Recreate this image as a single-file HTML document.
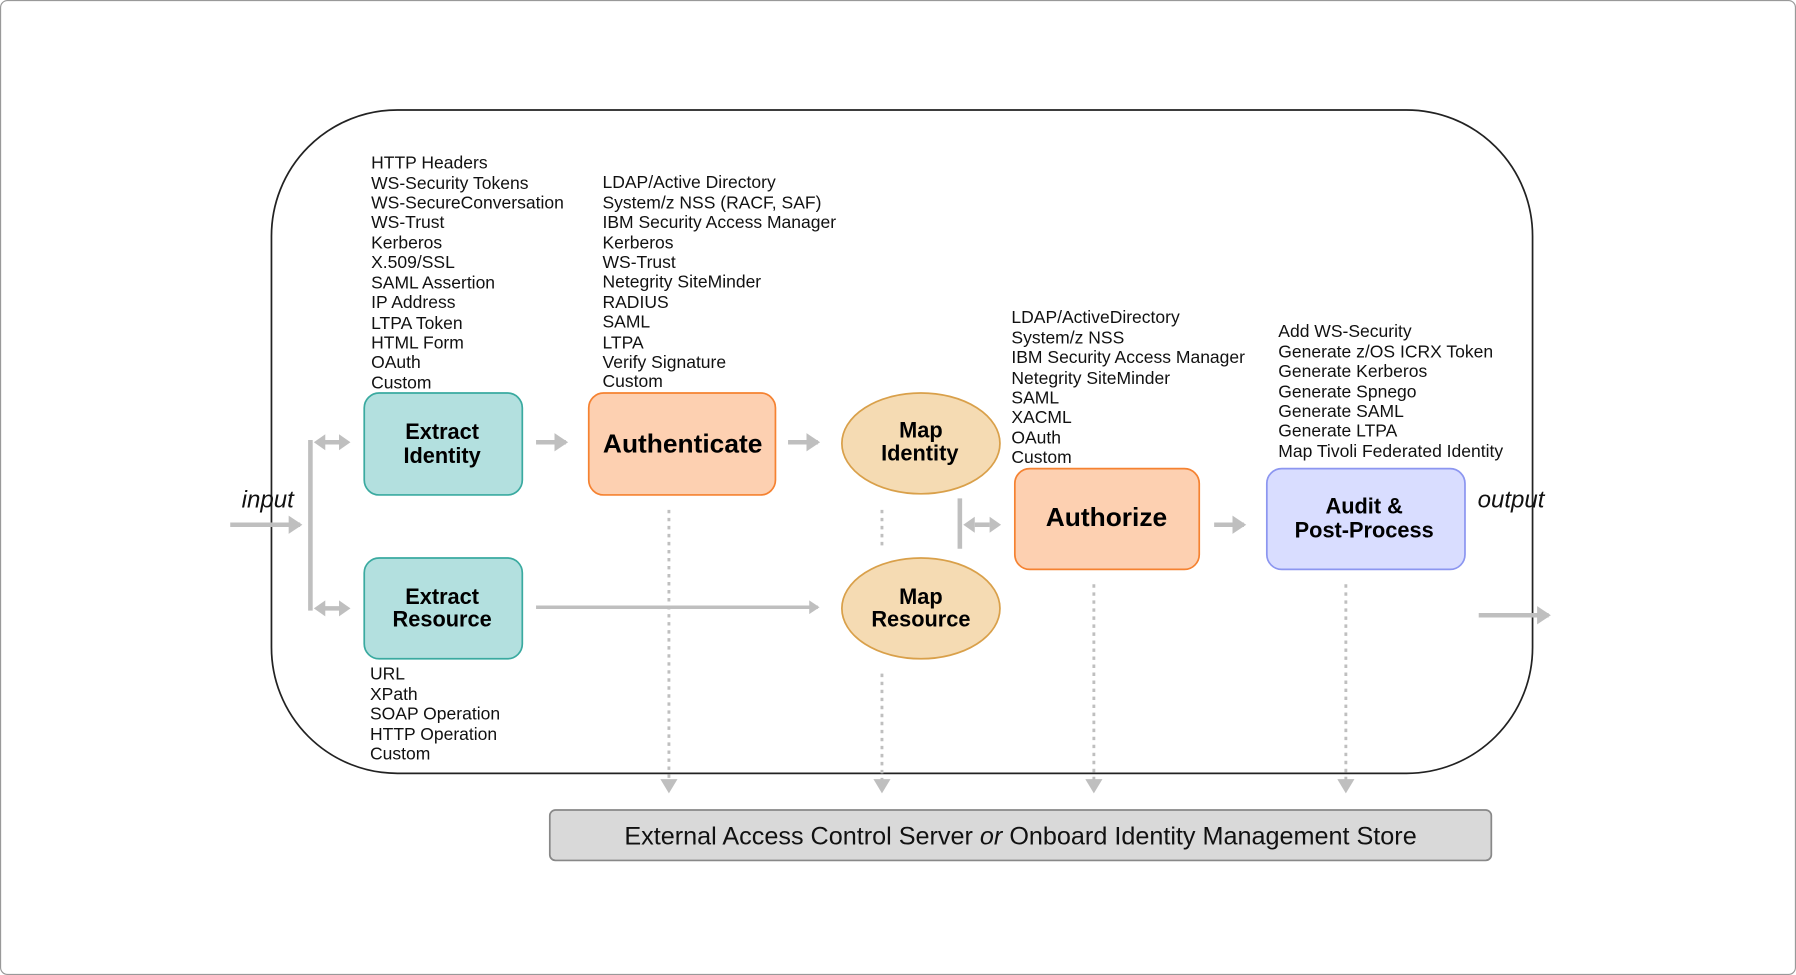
<!DOCTYPE html>
<html><head><meta charset="utf-8"><style>
html,body{margin:0;padding:0;background:#fff;}
#w{width:1568px;height:851px;transform:scale(1.14541,1.14571);transform-origin:0 0;position:relative;}
svg{position:absolute;left:0;top:0;}
text{font-family:"Liberation Sans",sans-serif;}
.l{font-size:15.3px;fill:#111;}
.b{font-weight:bold;fill:#000;}
</style></head><body><div id="w">
<svg width="1568" height="851" viewBox="0 0 1568 851">
<defs>
<marker id="ah" markerWidth="4" markerHeight="4" refX="2.5" refY="2" orient="auto" markerUnits="strokeWidth"><path d="M0,0 L3,2 L0,4 Z" fill="#bfbfbf"/></marker>
<marker id="dh" markerWidth="6" markerHeight="6" refX="4" refY="3" orient="auto" markerUnits="strokeWidth"><path d="M0,0 L5,3 L0,6 Z" fill="#bfbfbf"/></marker>
</defs>
<rect x="0.5" y="0.5" width="1567" height="850" rx="6" fill="#fff" stroke="#999"/>
<rect x="237" y="96" width="1101" height="579" rx="110" fill="none" stroke="#222" stroke-width="1.5"/>

<g stroke="#bfbfbf" stroke-width="4" fill="none">
<line x1="201" y1="458" x2="262" y2="458" marker-end="url(#ah)"/>
<line x1="271" y1="384" x2="271" y2="533"/>
<line x1="282" y1="386" x2="298" y2="386"/>
<line x1="282" y1="531" x2="298" y2="531"/>
<line x1="468" y1="386" x2="494" y2="386" marker-end="url(#ah)"/>
<line x1="688" y1="386" x2="714" y2="386" marker-end="url(#ah)"/>
<line x1="468" y1="530" x2="714" y2="530" stroke-width="3" marker-end="url(#ah)"/>
<line x1="838" y1="435" x2="838" y2="479"/>
<line x1="851" y1="458" x2="864" y2="458"/>
<line x1="1060" y1="458" x2="1086" y2="458" marker-end="url(#ah)"/>
<line x1="1291" y1="537" x2="1352" y2="537" marker-end="url(#ah)"/>
</g>
<g fill="#bfbfbf">
<path d="M274,386 L284,379 L284,393 Z"/><path d="M306,386 L296,379 L296,393 Z"/>
<path d="M274,531 L284,524 L284,538 Z"/><path d="M306,531 L296,524 L296,538 Z"/>
<path d="M841,458 L851,451 L851,465 Z"/><path d="M874,458 L864,451 L864,465 Z"/>
</g>
<g stroke="#bfbfbf" stroke-width="2.5" stroke-dasharray="3,4" fill="none">
<line x1="584" y1="445" x2="584" y2="690" marker-end="url(#dh)"/>
<line x1="770" y1="445" x2="770" y2="478"/>
<line x1="770" y1="588" x2="770" y2="690" marker-end="url(#dh)"/>
<line x1="955" y1="510" x2="955" y2="690" marker-end="url(#dh)"/>
<line x1="1175" y1="510" x2="1175" y2="690" marker-end="url(#dh)"/>
</g>

<rect x="318" y="343" width="138" height="89" rx="13" fill="#b3e0df" stroke="#3aaaa0" stroke-width="1.5"/>
<rect x="318" y="487" width="138" height="88" rx="13" fill="#b3e0df" stroke="#3aaaa0" stroke-width="1.5"/>
<rect x="514" y="343" width="163" height="89" rx="13" fill="#fdd0b1" stroke="#f58231" stroke-width="1.5"/>
<rect x="886" y="409" width="161" height="88" rx="13" fill="#fdd0b1" stroke="#f58231" stroke-width="1.5"/>
<rect x="1106" y="409" width="173" height="88" rx="13" fill="#d9ddff" stroke="#8c96f0" stroke-width="1.5"/>
<ellipse cx="804" cy="387" rx="69" ry="44" fill="#f5dbb3" stroke="#d9a04a" stroke-width="1.5"/>
<ellipse cx="804" cy="531" rx="69" ry="44" fill="#f5dbb3" stroke="#d9a04a" stroke-width="1.5"/>
<rect x="480" y="707" width="822" height="44" rx="5" fill="#d9d9d9" stroke="#888" stroke-width="1.5"/>

<g class="b" font-size="19" text-anchor="middle">
<text x="386" y="383" class="b">Extract</text><text x="386" y="404" class="b">Identity</text>
<text x="386" y="527" class="b">Extract</text><text x="386" y="547" class="b">Resource</text>
<text x="596" y="395" class="b" font-size="23">Authenticate</text>
<text x="804" y="382" class="b">Map</text><text x="803" y="402" class="b">Identity</text>
<text x="804" y="527" class="b">Map</text><text x="804" y="547" class="b">Resource</text>
<text x="966" y="459" class="b" font-size="23">Authorize</text>
<text x="1191" y="448" class="b">Audit &amp;</text><text x="1191" y="469" class="b">Post-Process</text>
</g>
<text x="891" y="737" font-size="22" text-anchor="middle" fill="#111">External Access Control Server <tspan font-style="italic">or</tspan> Onboard Identity Management Store</text>
<text x="211" y="443" font-size="21" font-style="italic" fill="#111">input</text>
<text x="1290" y="443" font-size="21" font-style="italic" fill="#111">output</text>

<g class="l">
<text x="324" y="147">HTTP Headers</text><text x="324" y="165">WS-Security Tokens</text><text x="324" y="182">WS-SecureConversation</text><text x="324" y="199">WS-Trust</text><text x="324" y="217">Kerberos</text><text x="324" y="234">X.509/SSL</text><text x="324" y="252">SAML Assertion</text><text x="324" y="269">IP Address</text><text x="324" y="287">LTPA Token</text><text x="324" y="304">HTML Form</text><text x="324" y="321">OAuth</text><text x="324" y="339">Custom</text>
</g>
<g class="l">
<text x="526" y="164">LDAP/Active Directory</text><text x="526" y="182">System/z NSS (RACF, SAF)</text><text x="526" y="199">IBM Security Access Manager</text><text x="526" y="217">Kerberos</text><text x="526" y="234">WS-Trust</text><text x="526" y="251">Netegrity SiteMinder</text><text x="526" y="269">RADIUS</text><text x="526" y="286">SAML</text><text x="526" y="304">LTPA</text><text x="526" y="321">Verify Signature</text><text x="526" y="338">Custom</text>
</g>
<g class="l">
<text x="883" y="282">LDAP/ActiveDirectory</text><text x="883" y="300">System/z NSS</text><text x="883" y="317">IBM Security Access Manager</text><text x="883" y="335">Netegrity SiteMinder</text><text x="883" y="352">SAML</text><text x="883" y="369">XACML</text><text x="883" y="387">OAuth</text><text x="883" y="404">Custom</text>
</g>
<g class="l">
<text x="1116" y="294">Add WS-Security</text><text x="1116" y="312">Generate z/OS ICRX Token</text><text x="1116" y="329">Generate Kerberos</text><text x="1116" y="347">Generate Spnego</text><text x="1116" y="364">Generate SAML</text><text x="1116" y="381">Generate LTPA</text><text x="1116" y="399">Map Tivoli Federated Identity</text>
</g>
<g class="l">
<text x="323" y="593">URL</text><text x="323" y="611">XPath</text><text x="323" y="628">SOAP Operation</text><text x="323" y="646">HTTP Operation</text><text x="323" y="663">Custom</text>
</g>
</svg></div></body></html>
